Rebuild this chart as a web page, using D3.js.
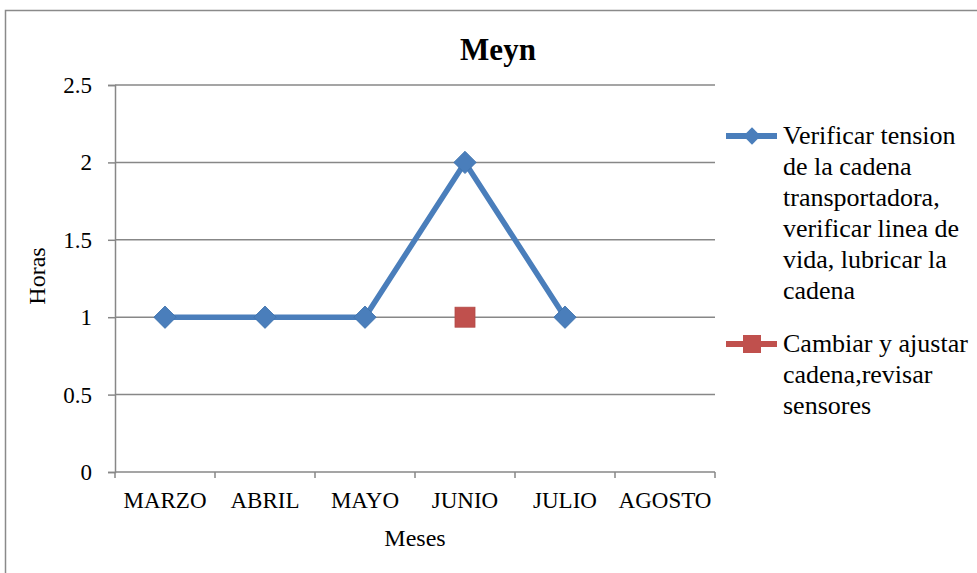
<!DOCTYPE html>
<html>
<head>
<meta charset="utf-8">
<script src="https://cdn.jsdelivr.net/npm/d3@7"></script>
<style>
  html, body { margin: 0; padding: 0; background: #fff; }
  svg { display: block; }
  svg text { font-family: "Liberation Serif", "Times New Roman", serif; fill: #000; }
</style>
</head>
<body>
<svg id="chart" width="977" height="573"></svg>
<script>
// Maintenance hours per month
const months = ["MARZO", "ABRIL", "MAYO", "JUNIO", "JULIO", "AGOSTO"];
const seriesNames = [
  "Verificar tension de la cadena transportadora, verificar linea de vida, lubricar la cadena",
  "Cambiar y ajustar cadena,revisar sensores"
];
const legendLines = [
  ["Verificar tension", "de la cadena", "transportadora,", "verificar linea de", "vida, lubricar la", "cadena"],
  ["Cambiar y ajustar", "cadena,revisar", "sensores"]
];
const series1 = [1, 1, 1, 2, 1, null];
const series2 = [null, null, null, 1, null, null];
const yTicks = [0, 0.5, 1, 1.5, 2, 2.5];

const FONT = "Liberation Serif, Times New Roman, serif";
const svg = d3.select("#chart");
const plot = { left: 115, right: 715, top: 85, bottom: 472 };
const gridColor = "#878787";

// Outer chart frame
svg.append("rect")
  .attr("x", 5.5).attr("y", 10.5)
  .attr("width", 1000).attr("height", 700)
  .attr("fill", "none").attr("stroke", "#8a8a8a").attr("stroke-width", 1.5);

const x = d3.scaleBand().domain(months).range([plot.left, plot.right]);
const y = d3.scaleLinear().domain([0, 2.5]).range([plot.bottom, plot.top]);

// Horizontal gridlines
svg.append("g").selectAll("line").data(yTicks.filter(d => d > 0)).join("line")
  .attr("x1", plot.left).attr("x2", plot.right)
  .attr("y1", d => y(d)).attr("y2", d => y(d))
  .attr("stroke", gridColor).attr("stroke-width", 1.5);

// Y axis
const yAxis = svg.append("g").attr("transform", `translate(${plot.left},0)`)
  .call(d3.axisLeft(y).tickValues(yTicks).tickSize(7).tickPadding(16).tickFormat(d3.format("")));
yAxis.attr("font-family", FONT).attr("font-size", 23);
yAxis.select(".domain").attr("stroke", gridColor).attr("stroke-width", 1.5);
yAxis.selectAll(".tick line").attr("stroke", gridColor).attr("stroke-width", 1.5);
yAxis.selectAll(".tick text").attr("x", -23).attr("dy", "0.33em").attr("fill", "#000");

// X axis with ticks at category boundaries
const xAxis = svg.append("g").attr("transform", `translate(0,${plot.bottom})`)
  .call(d3.axisBottom(x).tickSize(0));
xAxis.attr("font-family", FONT).attr("font-size", 23);
xAxis.select(".domain").remove();
xAxis.selectAll(".tick text").attr("y", 36).attr("dy", 0).attr("fill", "#000");
const bounds = months.map(m => x(m)).concat([x(months[months.length - 1]) + x.bandwidth()]);
svg.append("line")
  .attr("x1", plot.left).attr("x2", plot.right)
  .attr("y1", plot.bottom).attr("y2", plot.bottom)
  .attr("stroke", gridColor).attr("stroke-width", 1.5);
svg.append("g").selectAll("line").data(bounds).join("line")
  .attr("x1", d => d).attr("x2", d => d)
  .attr("y1", plot.bottom).attr("y2", plot.bottom + 6)
  .attr("stroke", gridColor).attr("stroke-width", 1.5);

// Title and axis titles
svg.append("text").attr("x", 498).attr("y", 60)
  .attr("text-anchor", "middle").attr("font-size", 31).attr("font-weight", "bold")
  .text("Meyn");
svg.append("text").attr("x", 415).attr("y", 546)
  .attr("text-anchor", "middle").attr("font-size", 24).text("Meses");
svg.append("text")
  .attr("transform", `translate(45,276) rotate(-90)`)
  .attr("text-anchor", "middle").attr("font-size", 24).text("Horas");

const cx = d => x(d) + x.bandwidth() / 2;
const blue = "#4A7EBB", red = "#C0504D";
const diamond = d3.symbol().type(d3.symbolSquare).size(250);

// Series 1 line + diamond markers
const pts1 = months.map((m, i) => ({ m, v: series1[i] })).filter(d => d.v != null);
svg.append("path").datum(pts1)
  .attr("d", d3.line().x(d => cx(d.m)).y(d => y(d.v)))
  .attr("fill", "none").attr("stroke", blue).attr("stroke-width", 5.5).attr("stroke-linejoin", "round");
svg.append("g").selectAll("path").data(pts1).join("path")
  .attr("d", diamond)
  .attr("transform", d => `translate(${cx(d.m)},${y(d.v)}) rotate(45)`)
  .attr("fill", blue).attr("stroke", "#3f72ac").attr("stroke-width", 0.8);

// Series 2 square markers
const pts2 = months.map((m, i) => ({ m, v: series2[i] })).filter(d => d.v != null);
svg.append("g").selectAll("rect").data(pts2).join("rect")
  .attr("x", d => cx(d.m) - 10).attr("y", d => y(d.v) - 10)
  .attr("width", 20).attr("height", 20)
  .attr("fill", red).attr("stroke", "#b24a47").attr("stroke-width", 0.8);

// Legend
const legendY = [136, 344];
const legendDiamond = d3.symbol().type(d3.symbolSquare).size(150);
legendLines.forEach((lines, i) => {
  const g = svg.append("g").attr("transform", `translate(0,${legendY[i]})`);
  g.append("line").attr("x1", 726).attr("x2", 777).attr("y1", 0).attr("y2", 0)
    .attr("stroke", i === 0 ? blue : red).attr("stroke-width", 6);
  if (i === 0) {
    g.append("path").attr("d", legendDiamond).attr("transform", "translate(752,0) rotate(45)").attr("fill", blue);
  } else {
    g.append("rect").attr("x", 743).attr("y", -9).attr("width", 18).attr("height", 18).attr("fill", red);
  }
  const t = g.append("text").attr("x", 783).attr("y", 8).attr("font-size", 26);
  t.append("title").text(seriesNames[i]);
  lines.forEach((ln, j) => {
    t.append("tspan").attr("x", 783).attr("dy", j === 0 ? 0 : 31).text(ln);
  });
});
</script>
</body>
</html>
